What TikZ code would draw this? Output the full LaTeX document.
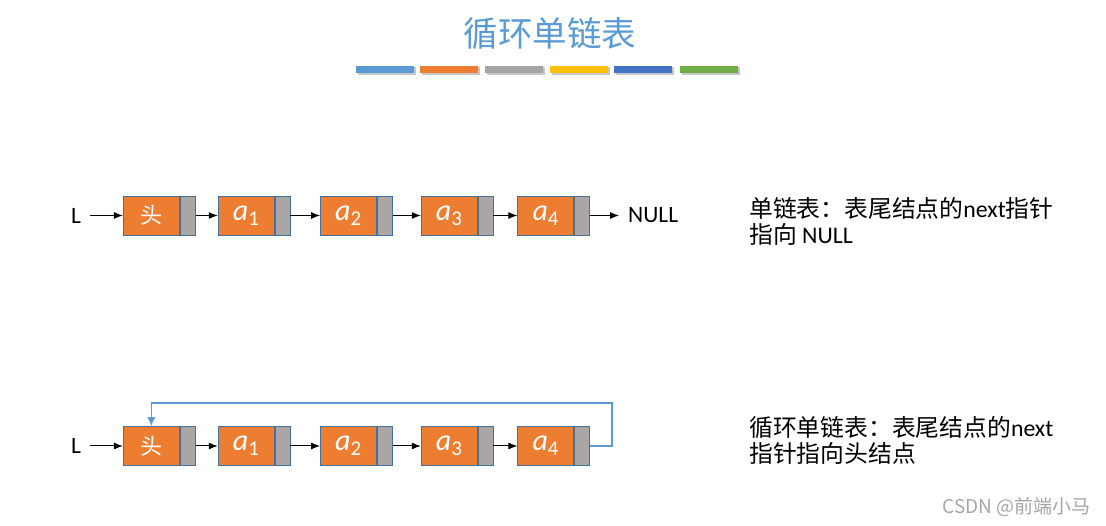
\documentclass[tikz,border=0pt]{standalone}
\usepackage{fontspec}
\usetikzlibrary{arrows.meta}
\setmainfont{Carlito}
\newfontfamily\cjk{Noto Sans CJK SC}
\newcommand{\lat}[1]{{\rmfamily #1}}
\definecolor{tblue}{HTML}{5B9BD5}
\definecolor{torange}{HTML}{ED7D31}
\definecolor{tgray}{HTML}{A5A5A5}
\definecolor{tyellow}{HTML}{FFC000}
\definecolor{tdblue}{HTML}{4472C4}
\definecolor{tgreen}{HTML}{70AD47}
\definecolor{bord}{HTML}{41719C}
\definecolor{ptrgray}{HTML}{AAA6A6}
\tikzset{
  dat/.style={draw=bord, line width=0.8pt, fill=torange, minimum width=56pt, minimum height=39pt, inner sep=0pt, text=white, font=\fontsize{30}{32}\selectfont},
  ptr/.style={draw=bord, line width=0.8pt, fill=ptrgray, minimum width=15pt, minimum height=39pt, inner sep=0pt, anchor=west},
  arr/.style={-{Latex[length=9pt,width=7pt]}, line width=1pt, black},
  loopc/.style={-{Latex[length=9pt,width=8pt]}, line width=1.1pt, tblue},
  lbl/.style={font=\fontsize{23.5}{26}\selectfont, text=black},
  desc/.style={font=\cjk\fontsize{23.8}{26}\selectfont, align=left, anchor=west, inner sep=0pt, text=black}
}
\newcommand{\elem}[1]{\textit{a}\textsubscript{\fontsize{21}{22}\selectfont #1}}
\begin{document}
\begin{tikzpicture}[x=1pt,y=-1pt]
\useasboundingbox (0,0) rectangle (1106,526);
% title
\node[font=\cjk\fontsize{34.5}{40}\selectfont, text=tblue] (title) at (550,33) {循环单链表};
% colour bars with shadow
\foreach \x/\c in {356/tblue,420/torange,485/tgray,550/tyellow,614/tdblue,680/tgreen}{
  \fill[black!22] (\x+1.5,67.5) rectangle (\x+59.5,75);
  \fill[\c] (\x,66) rectangle (\x+58,73);
}
% ---- top row ----
\node[lbl] (L1) at (76,215.5) {L};
\node[dat] (t0) at (151.3,215.5) {\cjk\fontsize{22}{24}\selectfont 头};
\node[ptr] (tp0) at (t0.east) {};
\node[dat] (t1) at (246.2,215.5) {\elem{1}};
\node[ptr] (tp1) at (t1.east) {};
\node[dat] (t2) at (348.5,215.5) {\elem{2}};
\node[ptr] (tp2) at (t2.east) {};
\node[dat] (t3) at (449.2,215.5) {\elem{3}};
\node[ptr] (tp3) at (t3.east) {};
\node[dat] (t4) at (545.8,215.5) {\elem{4}};
\node[ptr] (tp4) at (t4.east) {};
\node[lbl, anchor=west, inner sep=0pt] (null) at (628,215.5) {NULL};
\draw[arr] ([xshift=6pt]L1.east) -- (t0.west);
\draw[arr] (tp0.east) -- (t1.west);
\draw[arr] (tp1.east) -- (t2.west);
\draw[arr] (tp2.east) -- (t3.west);
\draw[arr] (tp3.east) -- (t4.west);
\draw[arr] (tp4.east) -- ([xshift=-9pt]null.west);
\node[desc] (d1) at (749,221) {单链表：表尾结点的\lat{next}指针\\指向 \lat{NULL}};
% ---- bottom row ----
\node[lbl] (L2) at (76,446) {L};
\node[dat] (b0) at (151.3,446) {\cjk\fontsize{22}{24}\selectfont 头};
\node[ptr] (bp0) at (b0.east) {};
\node[dat] (b1) at (246.2,446) {\elem{1}};
\node[ptr] (bp1) at (b1.east) {};
\node[dat] (b2) at (348.5,446) {\elem{2}};
\node[ptr] (bp2) at (b2.east) {};
\node[dat] (b3) at (449.2,446) {\elem{3}};
\node[ptr] (bp3) at (b3.east) {};
\node[dat] (b4) at (545.8,446) {\elem{4}};
\node[ptr] (bp4) at (b4.east) {};
\draw[arr] ([xshift=6pt]L2.east) -- (b0.west);
\draw[arr] (bp0.east) -- (b1.west);
\draw[arr] (bp1.east) -- (b2.west);
\draw[arr] (bp2.east) -- (b3.west);
\draw[arr] (bp3.east) -- (b4.west);
\coordinate (c1) at (612,403);
\draw[loopc] (bp4.east) -| (c1) -| (b0.north);
\node[desc] (d2) at (749,440.5) {循环单链表：表尾结点的\lat{next}\\指针指向头结点};
% watermark
\node[font=\cjk\fontsize{19}{22}\selectfont, text=black!35, anchor=east] (wm) at (1094,507) {CSDN @前端小马};
\end{tikzpicture}
\end{document}
